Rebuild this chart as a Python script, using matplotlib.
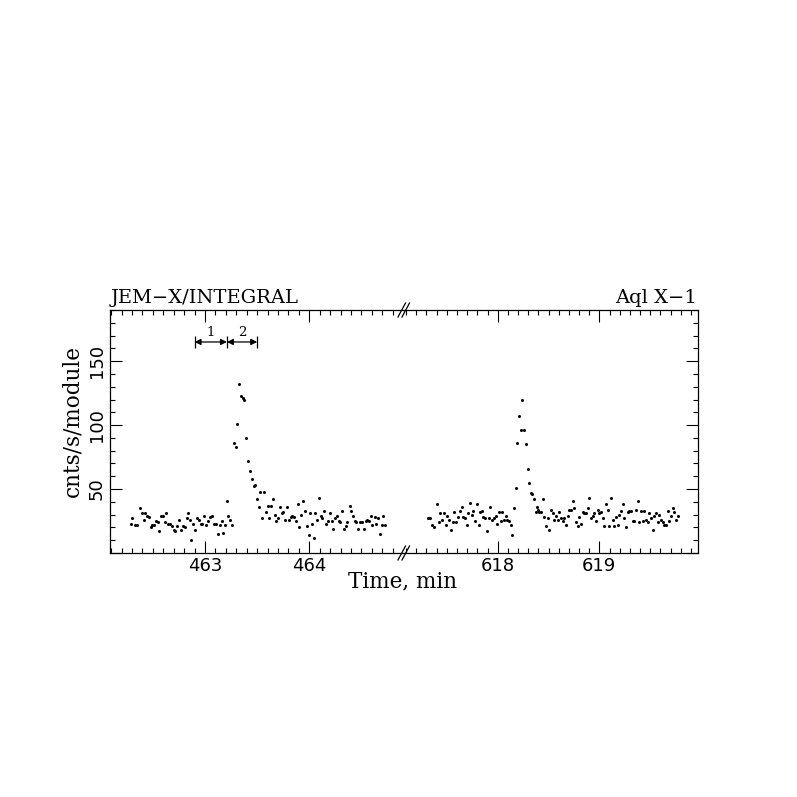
import matplotlib
matplotlib.use('Agg')
import matplotlib.pyplot as plt
from matplotlib.ticker import MultipleLocator, FuncFormatter
from matplotlib.lines import Line2D

# ---------------- data (time in min, count rate in cnts/s/module) ----------------
t_left = [462.288, 462.304, 462.326, 462.352, 462.374, 462.393, 462.413, 462.429, 462.445, 462.464,
          462.480, 462.496, 462.515, 462.531, 462.550, 462.563, 462.579, 462.598, 462.614, 462.630,
          462.649, 462.668, 462.684, 462.700, 462.716, 462.732, 462.748, 462.774, 462.793, 462.809,
          462.825, 462.841, 462.857, 462.869, 462.885, 462.901, 462.921, 462.940, 462.959, 462.975,
          462.994, 463.010, 463.029, 463.045, 463.064, 463.084, 463.103, 463.122, 463.141, 463.160,
          463.176, 463.192, 463.208, 463.224, 463.243, 463.262, 463.278, 463.294, 463.310, 463.330,
          463.346, 463.361, 463.377, 463.397, 463.416, 463.432, 463.448, 463.467, 463.480, 463.499,
          463.518, 463.531, 463.550, 463.566, 463.582, 463.601, 463.617, 463.633, 463.649, 463.668,
          463.684, 463.703, 463.719, 463.735, 463.751, 463.770, 463.786, 463.809, 463.821, 463.837,
          463.853, 463.869, 463.892, 463.905, 463.924, 463.943, 463.959, 463.975, 463.994, 464.010,
          464.026, 464.045, 464.058, 464.074, 464.093, 464.109, 464.125, 464.144, 464.160, 464.179,
          464.195, 464.215, 464.231, 464.250, 464.266, 464.282, 464.298, 464.314, 464.333, 464.352,
          464.365, 464.387, 464.403, 464.422, 464.435, 464.451, 464.470, 464.486, 464.502, 464.521,
          464.540, 464.556, 464.576, 464.592, 464.604, 464.627, 464.643, 464.662, 464.681, 464.697,
          464.710, 464.726]
c_left = [23, 27, 22, 22, 35, 31, 26, 31, 29, 28,
          20, 22, 22, 25, 24, 17, 29, 29, 24, 31,
          23, 23, 21, 18, 17, 21, 26, 18, 21, 20,
          27, 31, 26, 10, 23, 18, 27, 26, 23, 23,
          29, 22, 25, 28, 29, 23, 23, 15, 22, 25,
          16, 22, 41, 29, 26, 22, 86, 83, 101, 132,
          123, 121, 120, 90, 72, 64, 58, 52, 53, 42,
          36, 48, 27, 48, 32, 37, 27, 37, 42, 30,
          25, 27, 36, 31, 32, 26, 36, 26, 28, 29,
          28, 25, 38, 20, 30, 41, 33, 21, 14, 31,
          23, 12, 31, 26, 43, 29, 27, 33, 23, 25,
          31, 25, 19, 27, 29, 25, 24, 33, 19, 21,
          24, 37, 33, 29, 25, 24, 19, 24, 24, 19,
          25, 26, 25, 29, 22, 28, 23, 27, 15, 22,
          29, 22]

t_right = [617.315, 617.335, 617.351, 617.377, 617.400, 617.420, 617.436, 617.456, 617.472, 617.492,
           617.505, 617.522, 617.541, 617.558, 617.574, 617.590, 617.610, 617.627, 617.646, 617.663,
           617.679, 617.695, 617.712, 617.731, 617.748, 617.761, 617.777, 617.794, 617.813, 617.827,
           617.843, 617.859, 617.876, 617.895, 617.912, 617.928, 617.945, 617.961, 617.981, 617.997,
           618.013, 618.030, 618.043, 618.063, 618.079, 618.095, 618.112, 618.131, 618.145, 618.164,
           618.177, 618.194, 618.210, 618.227, 618.243, 618.263, 618.279, 618.295, 618.312, 618.328,
           618.341, 618.358, 618.374, 618.387, 618.400, 618.410, 618.427, 618.443, 618.459, 618.476,
           618.492, 618.509, 618.525, 618.541, 618.558, 618.574, 618.591, 618.607, 618.623, 618.640,
           618.656, 618.672, 618.689, 618.705, 618.722, 618.738, 618.754, 618.771, 618.787, 618.804,
           618.820, 618.836, 618.853, 618.869, 618.886, 618.902, 618.918, 618.935, 618.951, 618.968,
           618.984, 619.000, 619.017, 619.033, 619.050, 619.066, 619.082, 619.099, 619.115, 619.132,
           619.148, 619.164, 619.181, 619.197, 619.214, 619.230, 619.246, 619.263, 619.279, 619.296,
           619.312, 619.328, 619.345, 619.361, 619.377, 619.394, 619.410, 619.427, 619.443, 619.459,
           619.476, 619.492, 619.509, 619.525, 619.541, 619.558, 619.574, 619.591, 619.607, 619.623,
           619.640, 619.656, 619.673, 619.689, 619.705, 619.722, 619.738, 619.755, 619.771]
c_right = [27, 27, 22, 20, 38, 24, 31, 26, 31, 22,
           29, 26, 18, 24, 32, 24, 28, 33, 36, 28,
           27, 22, 31, 39, 30, 33, 25, 38, 22, 32,
           33, 28, 27, 17, 27, 36, 26, 27, 29, 23,
           32, 25, 32, 26, 29, 26, 25, 22, 14, 35,
           51, 86, 107, 96, 120, 96, 85, 66, 55, 47,
           46, 42, 32, 36, 34, 32, 32, 42, 28, 21,
           27, 18, 34, 31, 26, 29, 26, 32, 27, 25,
           27, 22, 29, 34, 34, 41, 35, 24, 21, 28,
           23, 32, 31, 31, 35, 43, 27, 29, 31, 25,
           34, 31, 32, 27, 21, 38, 34, 21, 43, 26,
           21, 28, 22, 30, 33, 38, 27, 20, 32, 33,
           33, 25, 25, 34, 41, 24, 33, 25, 33, 26,
           24, 31, 27, 18, 29, 31, 24, 30, 26, 24,
           22, 22, 33, 25, 29, 35, 32, 26, 29]

xlim_left = (462.089, 464.898)
xlim_right = (617.069, 619.970)
ylim = (0, 190)

interval_edges = [462.90, 463.21, 463.50]
interval_labels = ['1', '2']
interval_y = 165

title_left = 'JEM\u2212X/INTEGRAL'
title_right = 'Aql X\u22121'
xlabel = 'Time, min'
ylabel = 'cnts/s/module'

# ---------------- figure ----------------
W, H = 797, 797
fig = plt.figure(figsize=(W / 100, H / 100), dpi=100)

def frac(x0, y0, x1, y1):
    return [x0 / W, 1 - y1 / H, (x1 - x0) / W, (y1 - y0) / H]

axL = fig.add_axes(frac(110, 310, 403, 553))
axR = fig.add_axes(frac(403, 310, 698, 553))

serif = 'DejaVu Serif'
sans = 'DejaVu Sans'

for ax, t, c, xl in ((axL, t_left, c_left, xlim_left), (axR, t_right, c_right, xlim_right)):
    ax.plot(t, c, 'o', color='black', ms=2.2, mew=0, linestyle='none')
    ax.set_xlim(*xl)
    ax.set_ylim(*ylim)
    ax.xaxis.set_major_locator(MultipleLocator(1))
    ax.xaxis.set_minor_locator(MultipleLocator(0.1))
    ax.yaxis.set_major_locator(MultipleLocator(50))
    ax.yaxis.set_minor_locator(MultipleLocator(10))
    ax.tick_params(which='both', direction='in', top=True, bottom=True, width=0.8,
                   colors='black', labelsize=13)
    ax.tick_params(which='major', length=8.5)
    ax.tick_params(which='minor', length=3.6)
    ax.tick_params(axis='x', pad=3)
    for s in ax.spines.values():
        s.set_linewidth(0.9)
    ax.set_facecolor('none')

axL.yaxis.set_major_formatter(FuncFormatter(lambda v, p: '' if v <= 0 else f'{v:.0f}'))
axL.spines['right'].set_visible(False)
axL.tick_params(which='both', left=True, right=False)
axL.tick_params(axis='y', labelrotation=90, pad=3)
for lab in axL.get_yticklabels():
    lab.set_va('center')
axR.spines['left'].set_visible(False)
axR.tick_params(which='both', left=False, right=True, labelleft=False)

for ax in (axL, axR):
    for lab in ax.get_xticklabels() + ax.get_yticklabels():
        lab.set_family(sans)

# interval markers
for a, b, lab in zip(interval_edges[:-1], interval_edges[1:], interval_labels):
    axL.annotate('', xy=(b, interval_y), xytext=(a, interval_y),
                 arrowprops=dict(arrowstyle='<|-|>', color='black', lw=0.9,
                                 mutation_scale=9, shrinkA=0, shrinkB=0))
    axL.text((a + b) / 2, interval_y + 7.5, lab, ha='center', va='center',
             fontsize=9.5, family=serif)
axL.vlines(interval_edges, interval_y - 4.5, interval_y + 4.5, color='black', lw=0.9)

# break marks
for yc in (310, 553):
    for dx in (0, 4):
        x0, y0 = 398 + dx, yc + 7
        x1, y1 = 405.5 + dx, yc - 7
        fig.add_artist(Line2D([x0 / W, x1 / W], [1 - y0 / H, 1 - y1 / H],
                              color='black', lw=0.9))

# texts
fig.text(111 / W, 1 - 303 / H, title_left, ha='left', va='baseline', fontsize=14, family=serif)
fig.text(697 / W, 1 - 303 / H, title_right, ha='right', va='baseline', fontsize=14, family=serif)
fig.text(403 / W, 1 - 581 / H, xlabel, ha='center', va='center', fontsize=15.5, family=serif)
fig.text(72 / W, 1 - 421 / H, ylabel, ha='center', va='center', rotation=90,
         fontsize=15.5, family=serif)

fig.savefig('out.png', dpi=100, facecolor='white')
